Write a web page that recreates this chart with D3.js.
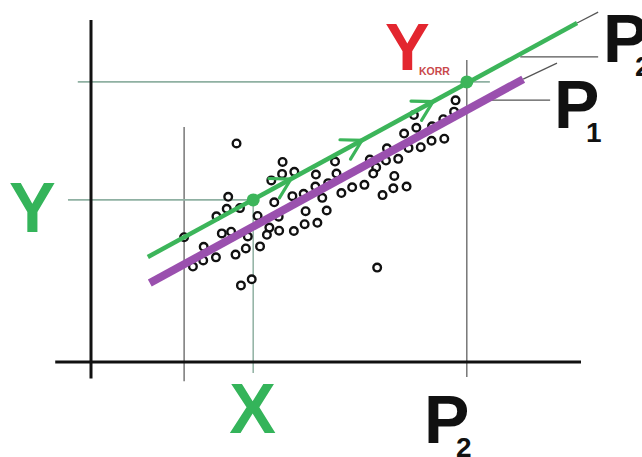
<!DOCTYPE html>
<html>
<head>
<meta charset="utf-8">
<script src="https://cdn.jsdelivr.net/npm/d3@7"></script>
<style>
  html, body { margin: 0; padding: 0; background: #fff; }
  svg { display: block; }
  text { font-family: "Liberation Sans", Arial, sans-serif; font-weight: bold; }
</style>
</head>
<body>
<div id="chart"></div>
<script>
// ---- data (chart units 0..100 on both axes) ----
const pointsX = [29.7,39.1,49.8,39.0,41.5,36.8,45.9,50.1,45.8,48.4,51.1,53.3,37.4,41.1,43.4,47.2,43.8,48.1,38.3,36.4,35.9,38.4,41.4,43.6,46.2,34.5,28.0,27.7,30.4,25.6,34.0,19.0,26.7,28.6,32.0,23.0,22.9,25.5,29.5,31.6,20.8,32.8,30.6,74.4,74.1,71.9,69.6,66.4,65.9,63.9,72.1,69.5,67.3,64.8,60.4,62.7,60.2,56.9,58.2,57.6,61.9,59.5,61.7,64.4,55.8,58.4];
const pointsY = [63.9,58.5,58.6,55.0,55.6,53.1,54.8,55.1,51.3,52.3,49.4,51.1,46.7,48.5,49.2,48.0,44.1,44.3,42.5,39.3,37.2,38.4,38.3,40.3,40.7,33.8,48.3,44.8,45.0,42.6,42.7,36.5,37.6,38.1,36.7,33.7,29.7,30.6,31.4,33.2,27.9,24.2,22.4,76.5,73.2,71.0,68.9,68.5,72.2,66.8,65.3,64.7,62.8,62.6,62.5,59.4,58.9,59.2,56.9,55.1,54.4,48.8,50.8,51.3,51.8,27.6];

const greenLine = [[11.6, 30.7], [99.2, 99.1]];
const greenExt = [[99.2, 99.1], [103.5, 102.3]];
const purpleLine = [[12.0, 23.1], [88.2, 82.7]];
const purpleExt = [[88.2, 82.7], [95.1, 87.4]];

const valX = 33.1, valY = 47.4;      // X, Y
const valP2 = 76.7, valYkorr = 81.9; // P2, Y korr
const valLeft = 19.0;
const arrowAt = [40.8, 55.3, 69.8];  // x positions of arrowheads on green line

// ---- layout ----
const W = 642, H = 457;
const x = d3.scaleLinear().domain([0, 100]).range([91, 581]);
const y = d3.scaleLinear().domain([0, 100]).range([362, 20]);

const svg = d3.select("#chart").append("svg").attr("width", W).attr("height", H);

function seg(x1, y1, x2, y2, color, w) {
  svg.append("line")
    .attr("x1", x(x1)).attr("y1", y(y1)).attr("x2", x(x2)).attr("y2", y(y2))
    .attr("stroke", color).attr("stroke-width", w);
}

const guide = "#8fb0a2";
const dark = "#555";

// guide lines
seg(valLeft, 68.7, valLeft, -5.6, dark, 1.2);
seg(valX, valY, valX, -3.2, guide, 1.5);
seg(valP2, 88.3, valP2, -4.4, dark, 1.2);
seg(-4.7, valY, valX, valY, guide, 1.8);
seg(-2.7, valYkorr, 81.4, valYkorr, guide, 1.8);
// leader lines
seg(87.6, 89.2, 103.5, 89.2, dark, 1.2);
seg(80.4, 76.6, 93.7, 76.6, dark, 1.2);

// axes
seg(0, -4.8, 0, 100, "#111", 3);
seg(-7.3, 0, 100, 0, "#111", 3);

// points
svg.append("g").selectAll("circle")
  .data(pointsX.map((v, i) => [v, pointsY[i]]))
  .join("circle")
  .attr("cx", d => x(d[0])).attr("cy", d => y(d[1]))
  .attr("r", 3.8)
  .attr("fill", "#fff").attr("stroke", "#111").attr("stroke-width", 2.4);

const line = d3.line().x(d => x(d[0])).y(d => y(d[1]));
const green = "#3cb55a", purple = "#9a50ae";

svg.append("path").attr("d", line(purpleExt)).attr("stroke", dark).attr("stroke-width", 1.2).attr("fill", "none");
svg.append("path").attr("d", line(purpleLine)).attr("stroke", purple).attr("stroke-width", 8).attr("fill", "none");
svg.append("path").attr("d", line(greenExt)).attr("stroke", dark).attr("stroke-width", 1.2).attr("fill", "none");
svg.append("path").attr("d", line(greenLine)).attr("stroke", green).attr("stroke-width", 4.5).attr("fill", "none");

// arrowheads along green line
const gx0 = greenLine[0][0], gy0 = greenLine[0][1];
const gSlope = (greenLine[1][1] - gy0) / (greenLine[1][0] - gx0);
const px0 = x(greenLine[0][0]), py0 = y(greenLine[0][1]);
const ang = Math.atan2(y(greenLine[1][1]) - py0, x(greenLine[1][0]) - px0);
arrowAt.forEach(ax => {
  const tx = x(ax), ty = y(gy0 + (ax - gx0) * gSlope);
  const L = 22, spread = 30 * Math.PI / 180;
  const back = ang + Math.PI;
  const p1 = [tx + L * Math.cos(back - spread), ty + L * Math.sin(back - spread)];
  const p2 = [tx + L * Math.cos(back + spread), ty + L * Math.sin(back + spread)];
  svg.append("path")
    .attr("d", `M${p1[0]},${p1[1]}L${tx},${ty}L${p2[0]},${p2[1]}`)
    .attr("stroke", green).attr("stroke-width", 3.2).attr("fill", "none")
    .attr("stroke-linejoin", "miter").attr("stroke-linecap", "round");
});

// dots
[[valX, valY], [valP2, valYkorr]].forEach(d => {
  svg.append("circle").attr("cx", x(d[0])).attr("cy", y(d[1])).attr("r", 6.5).attr("fill", green);
});

// labels
const labelGreen = "#34b45a";
svg.append("text").attr("x", 9).attr("y", 232).attr("font-size", 70).attr("fill", labelGreen).text("Y");
svg.append("text").attr("x", 252.5).attr("y", 433).attr("text-anchor", "middle").attr("font-size", 70).attr("fill", labelGreen).text("X");

function pLabel(px, py, sub, subDx) {
  svg.append("text").attr("x", px).attr("y", py).attr("font-size", 68).attr("fill", "#111").text("P");
  svg.append("text").attr("x", px + subDx).attr("y", py + 14).attr("font-size", 28).attr("fill", "#111").text(sub);
}
pLabel(424, 443, "2", 32);
pLabel(603, 62, "2", 32);
pLabel(554, 128, "1", 32);

svg.append("text").attr("x", 385).attr("y", 70).attr("font-size", 67).attr("fill", "#e3262f").text("Y");
svg.append("text").attr("x", 419).attr("y", 74.5).attr("font-size", 10.5).attr("fill", "#c9484a").attr("font-weight", "normal").text("KORR");
</script>
</body>
</html>
